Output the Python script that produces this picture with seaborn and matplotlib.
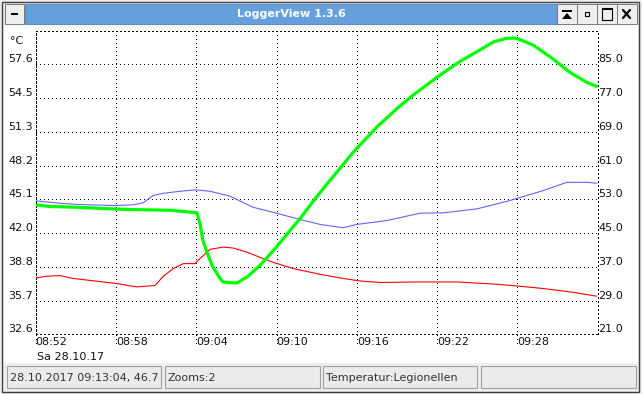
import numpy as np
import pandas as pd
import matplotlib
matplotlib.use("Agg")
import matplotlib.pyplot as plt
import seaborn as sns
from matplotlib.patches import Rectangle, Polygon
from matplotlib.lines import Line2D

# ---------------- data (minutes after 08:52, °C) ----------------
green_t = [0.0, 1.08, 3.09, 5.04, 7.05, 10.04, 11.31, 12.06, 12.28, 12.5, 12.8, 13.18,
           13.78, 14.0, 14.52, 15.05, 15.8, 16.77, 17.89, 19.01, 19.75, 20.73, 21.77,
           22.6, 23.74, 25.49, 27.1, 28.22, 29.97, 31.71, 33.21, 34.2, 35.2, 35.95,
           37.19, 38.68, 39.93, 41.18, 41.92]
green_v = [44.59, 44.44, 44.37, 44.25, 44.16, 44.09, 43.95, 43.85, 42.84, 41.30, 40.22, 38.99,
           37.77, 37.45, 37.38, 37.36, 37.91, 38.99, 40.53, 42.22, 43.30, 44.92, 46.53,
           47.76, 49.48, 51.79, 53.63, 54.77, 56.40, 57.88, 58.95, 59.68, 60.03, 60.03,
           59.38, 58.09, 56.86, 55.94, 55.57]

blue_t = [0.0, 1.08, 2.07, 3.32, 5.78, 7.28, 8.03, 8.77, 9.52, 10.79, 11.91, 13.03, 14.52,
          16.24, 17.89, 19.75, 21.25, 22.97, 24.01, 26.26, 28.72, 30.44, 32.98, 35.44,
          37.91, 39.7, 41.2, 41.95]
blue_v = [44.96, 44.83, 44.71, 44.62, 44.53, 44.59, 44.78, 45.45, 45.66, 45.85, 45.98, 45.85,
          45.40, 44.37, 43.85, 43.24, 42.78, 42.47, 42.78, 43.14, 43.82, 43.85, 44.22, 44.99,
          45.91, 46.68, 46.68, 46.59]

red_t = [0.0, 0.83, 1.82, 2.82, 4.57, 6.06, 7.55, 8.92, 9.54, 10.29, 11.04, 11.91, 12.28,
         13.03, 14.03, 14.77, 15.77, 17.01, 17.89, 19.25, 21.25, 22.99, 24.24, 25.73,
         28.72, 31.46, 34.45, 35.95, 37.93, 39.93, 41.92]
red_v = [37.82, 37.98, 38.04, 37.77, 37.52, 37.30, 36.99, 37.12, 37.98, 38.69, 39.15, 39.15,
         39.61, 40.47, 40.68, 40.59, 40.22, 39.61, 39.21, 38.69, 38.16, 37.77, 37.54, 37.40,
         37.45, 37.45, 37.24, 37.08, 36.84, 36.53, 36.13]

left_tick_labels = ["32.6", "35.7", "38.8", "42.0", "45.1", "48.2", "51.3", "54.5", "57.6"]
right_tick_labels = ["21.0", "29.0", "37.0", "45.0", "53.0", "61.0", "69.0", "77.0", "85.0"]
x_tick_labels = ["08:52", "08:58", "09:04", "09:10", "09:16", "09:22", "09:28"]
date_label = "Sa 28.10.17"
unit_label = "°C"
window_title = "LoggerView 1.3.6"
status_fields = ["28.10.2017 09:13:04, 46.7", "Zooms:2", "Temperatur:Legionellen", ""]

# ---------------- figure ----------------
W, H = 642, 394
sns.set_theme(style="white")
plt.rcParams["font.family"] = ["DejaVu Sans"]
fig = plt.figure(figsize=(W / 100, H / 100), dpi=100)
fig.patch.set_facecolor("#EEEEEE")


def fx(x):
    return x / W


def fy(y):
    return 1 - y / H


def prect(x, y, w, h, **kw):
    r = Rectangle((fx(x), fy(y + h)), w / W, h / H, transform=fig.transFigure, **kw)
    fig.add_artist(r)
    return r


def pline(xs, ys, **kw):
    fig.add_artist(Line2D([fx(v) for v in xs], [fy(v) for v in ys],
                          transform=fig.transFigure, **kw))


# window frame + interior
prect(2, 2, 637, 390, facecolor="#EEEEEE", edgecolor="#404040", linewidth=1.0, zorder=-5)
prect(4, 25, 634, 338, facecolor="white", edgecolor="none", zorder=-4)

# plot axes
L, R, B, T = 35.6, 597.7, 334.3, 30.7
ax = fig.add_axes([fx(L), fy(B), (R - L) / W, (B - T) / H])
ax.set_facecolor("white")

df = pd.concat([
    pd.DataFrame({"t": blue_t, "v": blue_v, "s": "blue"}),
    pd.DataFrame({"t": red_t, "v": red_v, "s": "red"}),
    pd.DataFrame({"t": green_t, "v": green_v, "s": "green"}),
])
styles = {"blue": ("#6464FF", 0.8), "red": ("#FF0000", 0.8), "green": ("#00FF00", 2.3)}
for name, sub in df.groupby("s", sort=False):
    col, lw = styles[name]
    sns.lineplot(data=sub, x="t", y="v", color=col, linewidth=lw, ax=ax,
                 estimator=None, legend=False, zorder=3)

step = 3.125
y0 = 32.6
ax.set_ylim(y0, y0 + 9 * step)
ax.set_xlim(0, 42)
yt = [y0 + i * step for i in range(len(left_tick_labels))]
ax.set_yticks(yt, left_tick_labels)
xt = [6 * i for i in range(len(x_tick_labels))]
ax.set_xticks(xt, x_tick_labels)
ax.set_xlabel("")
ax.set_ylabel("")

dot = (0, (1, 3))
ax.grid(False)
for v in yt:
    ax.axhline(v, color="black", linewidth=0.72, linestyle=dot, antialiased=False, zorder=1)
for v in xt:
    ax.axvline(v, ymin=-9 / (B - T), ymax=1, color="black", linewidth=0.72,
               linestyle=dot, antialiased=False, clip_on=False, zorder=1)
for s in ax.spines.values():
    s.set_color("black")
    s.set_linewidth(0.72)
    s.set_linestyle(dot)
    s.set_antialiased(False)

ax.tick_params(axis="y", length=0, pad=1.9, labelsize=8, labelcolor="#111111")
ax.tick_params(axis="x", length=0, pad=2.0, labelsize=8, labelcolor="#111111")
for lab in ax.get_yticklabels():
    lab.set_va("bottom")
for lab in ax.get_xticklabels():
    lab.set_ha("left")

ax2 = ax.twinx()
ax2.set_ylim(21, 21 + 9 * 8)
ax2.set_yticks([21 + 8 * i for i in range(len(right_tick_labels))], right_tick_labels)
ax2.tick_params(axis="y", length=0, pad=0.6, labelsize=8, labelcolor="#111111")
for lab in ax2.get_yticklabels():
    lab.set_va("bottom")
ax2.grid(False)
for s in ax2.spines.values():
    s.set_visible(False)
ax2.set_ylabel("")

fig.text(fx(23.5), fy(43.5), unit_label, ha="right", va="baseline", fontsize=8, color="#111111")
fig.text(fx(37), fy(360), date_label, ha="left", va="baseline", fontsize=8, color="#111111")

# title bar
prect(25, 4, 532, 20, facecolor="#65A0DC", edgecolor="#5A8AC0", linewidth=0.7)
fig.text(fx(291), fy(14), window_title, ha="center", va="center", fontsize=8,
         fontweight="bold", color="white")
btn = dict(facecolor="#EEEEEE", edgecolor="#7A7A7A", linewidth=0.7)
prect(5, 4, 19, 20, **btn)
prect(11, 13, 7, 2, facecolor="black", edgecolor="none")
for bx in [557, 577, 597, 617]:
    prect(bx, 4, 20, 20, **btn)
prect(562, 10, 10, 2, facecolor="black", edgecolor="none")
fig.add_artist(Polygon([(fx(562), fy(19)), (fx(572), fy(19)), (fx(567), fy(13))],
                       closed=True, facecolor="black", edgecolor="none",
                       transform=fig.transFigure))
prect(585, 12, 4, 4, facecolor="none", edgecolor="black", linewidth=0.8)
prect(602, 8, 10, 12, facecolor="none", edgecolor="black", linewidth=0.8)
prect(602, 8, 10, 2, facecolor="black", edgecolor="none")
pline([623, 630], [10, 18], color="black", linewidth=1.6)
pline([630, 623], [10, 18], color="black", linewidth=1.6)

# status bar
fields = [(7, 154), (165, 155), (323, 154), (481, 155)]
for (x0, w), txt in zip(fields, status_fields):
    prect(x0, 366, w, 22, facecolor="#EBEBEB", edgecolor="#A0A0A0", linewidth=0.8)
    if txt:
        fig.text(fx(x0 + 3), fy(381), txt, ha="left", va="baseline", fontsize=8,
                 color="#333333")

fig.savefig("out.png", dpi=100, facecolor=fig.get_facecolor())
